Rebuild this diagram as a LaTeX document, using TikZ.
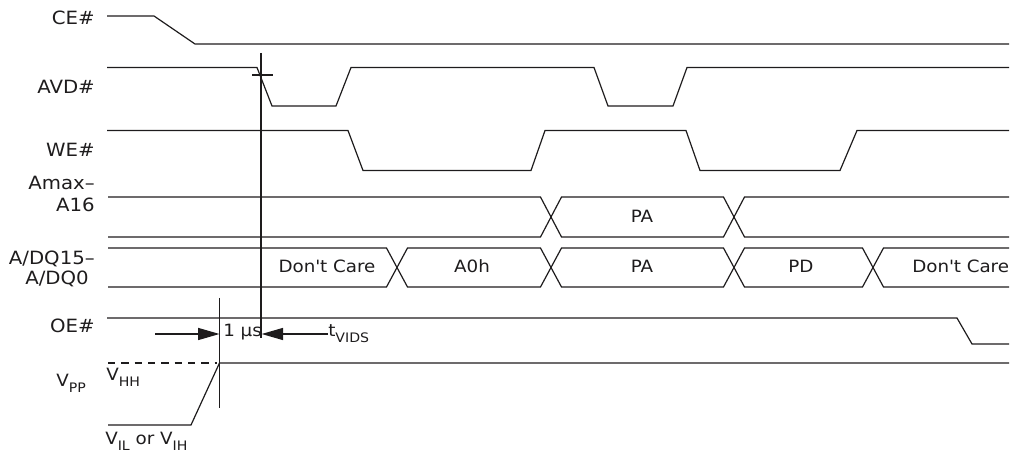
\documentclass[tikz,border=0pt]{standalone}
\usepackage{fontspec}
\setmainfont{DejaVu Sans}[FakeStretch=1.08]
\usetikzlibrary{arrows.meta}
\definecolor{ink}{HTML}{1E1C1D}
\newcommand{\sbs}[1]{\raisebox{-4pt}{\fontsize{9.8}{10}\selectfont #1}}
\begin{document}
\begin{tikzpicture}[x=0.75pt,y=-0.75pt,
  sig/.style={draw=ink,line width=0.9pt,line join=miter},
  dsig/.style={draw=ink,line width=2pt,dash pattern=on 5.5pt off 4.5pt},
  dim/.style={draw=ink,line width=0.9pt,-{Triangle[length=16pt,width=9pt]}},
  lbl/.style={font=\fontsize{12.7}{15}\selectfont,text=ink,inner sep=0pt},
  sname/.style={font=\fontsize{13.7}{16}\selectfont,text=ink,inner sep=0pt,anchor=base east}]
\useasboundingbox (0,0) rectangle (1015,452);

% signal names
\node[sname] (lce)   at (95,25)    {CE\#};
\node[sname] (lavd)  at (95,94)    {AVD\#};
\node[sname] (lwe)   at (95,157)   {WE\#};
\node[sname] (lamax) at (95,189.5) {Amax–};
\node[sname] (la16)  at (95,212)   {A16};
\node[sname] (ladq)  at (95,265)   {A/DQ15–};
\node[sname] (ladq0) at (89,285)   {A/DQ0};
\node[sname] (loe)   at (95,332.5) {OE\#};
\node[lbl,anchor=base west] (lvpp) at (56,387) {V\sbs{PP}};

% CE#
\draw[sig] (107,16) -- (154,16) -- (195,44) -- (1009,44);
% AVD#
\draw[sig] (107,67.5) -- (257,67.5) -- (272,106) -- (336,106) -- (351,67.5)
  -- (594,67.5) -- (608,106) -- (673,106) -- (687,67.5) -- (1009,67.5);
% WE#
\draw[sig] (107,130.5) -- (348,130.5) -- (363,170.5) -- (531,170.5) -- (545,130.5)
  -- (686,130.5) -- (700,170.5) -- (840,170.5) -- (857,130.5) -- (1009,130.5);

% Amax-A16 bus
\draw[sig] (108,197) -- (540.5,197) -- (561.5,237) -- (723.5,237) -- (744.5,197) -- (1009,197);
\draw[sig] (108,237) -- (540.5,237) -- (561.5,197) -- (723.5,197) -- (744.5,237) -- (1009,237);
\node[lbl,anchor=base] (pa1) at (642,223) {PA};

% A/DQ bus
\draw[sig] (108,248) -- (386.5,248) -- (407.5,287) -- (540.5,287) -- (561.5,248)
  -- (723.5,248) -- (744.5,287) -- (862.5,287) -- (883.5,248) -- (1009,248);
\draw[sig] (108,287) -- (386.5,287) -- (407.5,248) -- (540.5,248) -- (561.5,287)
  -- (723.5,287) -- (744.5,248) -- (862.5,248) -- (883.5,287) -- (1009,287);
\node[lbl,anchor=base] (dc1) at (327,273) {Don\textquotesingle t Care};
\node[lbl,anchor=base] (a0h) at (472,273) {A0h};
\node[lbl,anchor=base] (pa2) at (642,273) {PA};
\node[lbl,anchor=base] (pd)  at (801,273) {PD};
\node[lbl,anchor=base west] (dc2) at (912,273) {Don\textquotesingle t Care};

% OE#
\draw[sig] (107,318) -- (957,318) -- (972,344) -- (1009,344);

% VPP
\draw[dsig] (108,363) -- (217,363);
\draw[sig] (108,425) -- (191,425) -- (219.5,363) -- (1009,363);
\node[lbl,anchor=base west] (vhh) at (106,381) {V\sbs{HH}};
\node[lbl,anchor=base west] (vil) at (105,445) {V\sbs{IL} or V\sbs{IH}};

% reference lines
\coordinate (m1top) at (261,53);
\coordinate (m1bot) at (261,338);
\coordinate (m2top) at (219.5,298);
\coordinate (m2bot) at (219.5,408);
\draw[sig] (m1top) -- (m1bot);
\draw[sig] (m2top) -- (m2bot);
\draw[sig] (252,75) -- (273,75);

% 1 us / tVIDS dimension
\node[lbl,anchor=base west] (onus) at (223,337) {1 µs};
\node[lbl,anchor=base west] (tv) at (328,337) {t\sbs{VIDS}};
\coordinate (a1s) at (155,334);
\draw[dim] (a1s) -- (m2top |- a1s);
\draw[dim] (tv.west |- a1s) -- ([xshift=0.5pt]m1top |- a1s);
\end{tikzpicture}
\end{document}
